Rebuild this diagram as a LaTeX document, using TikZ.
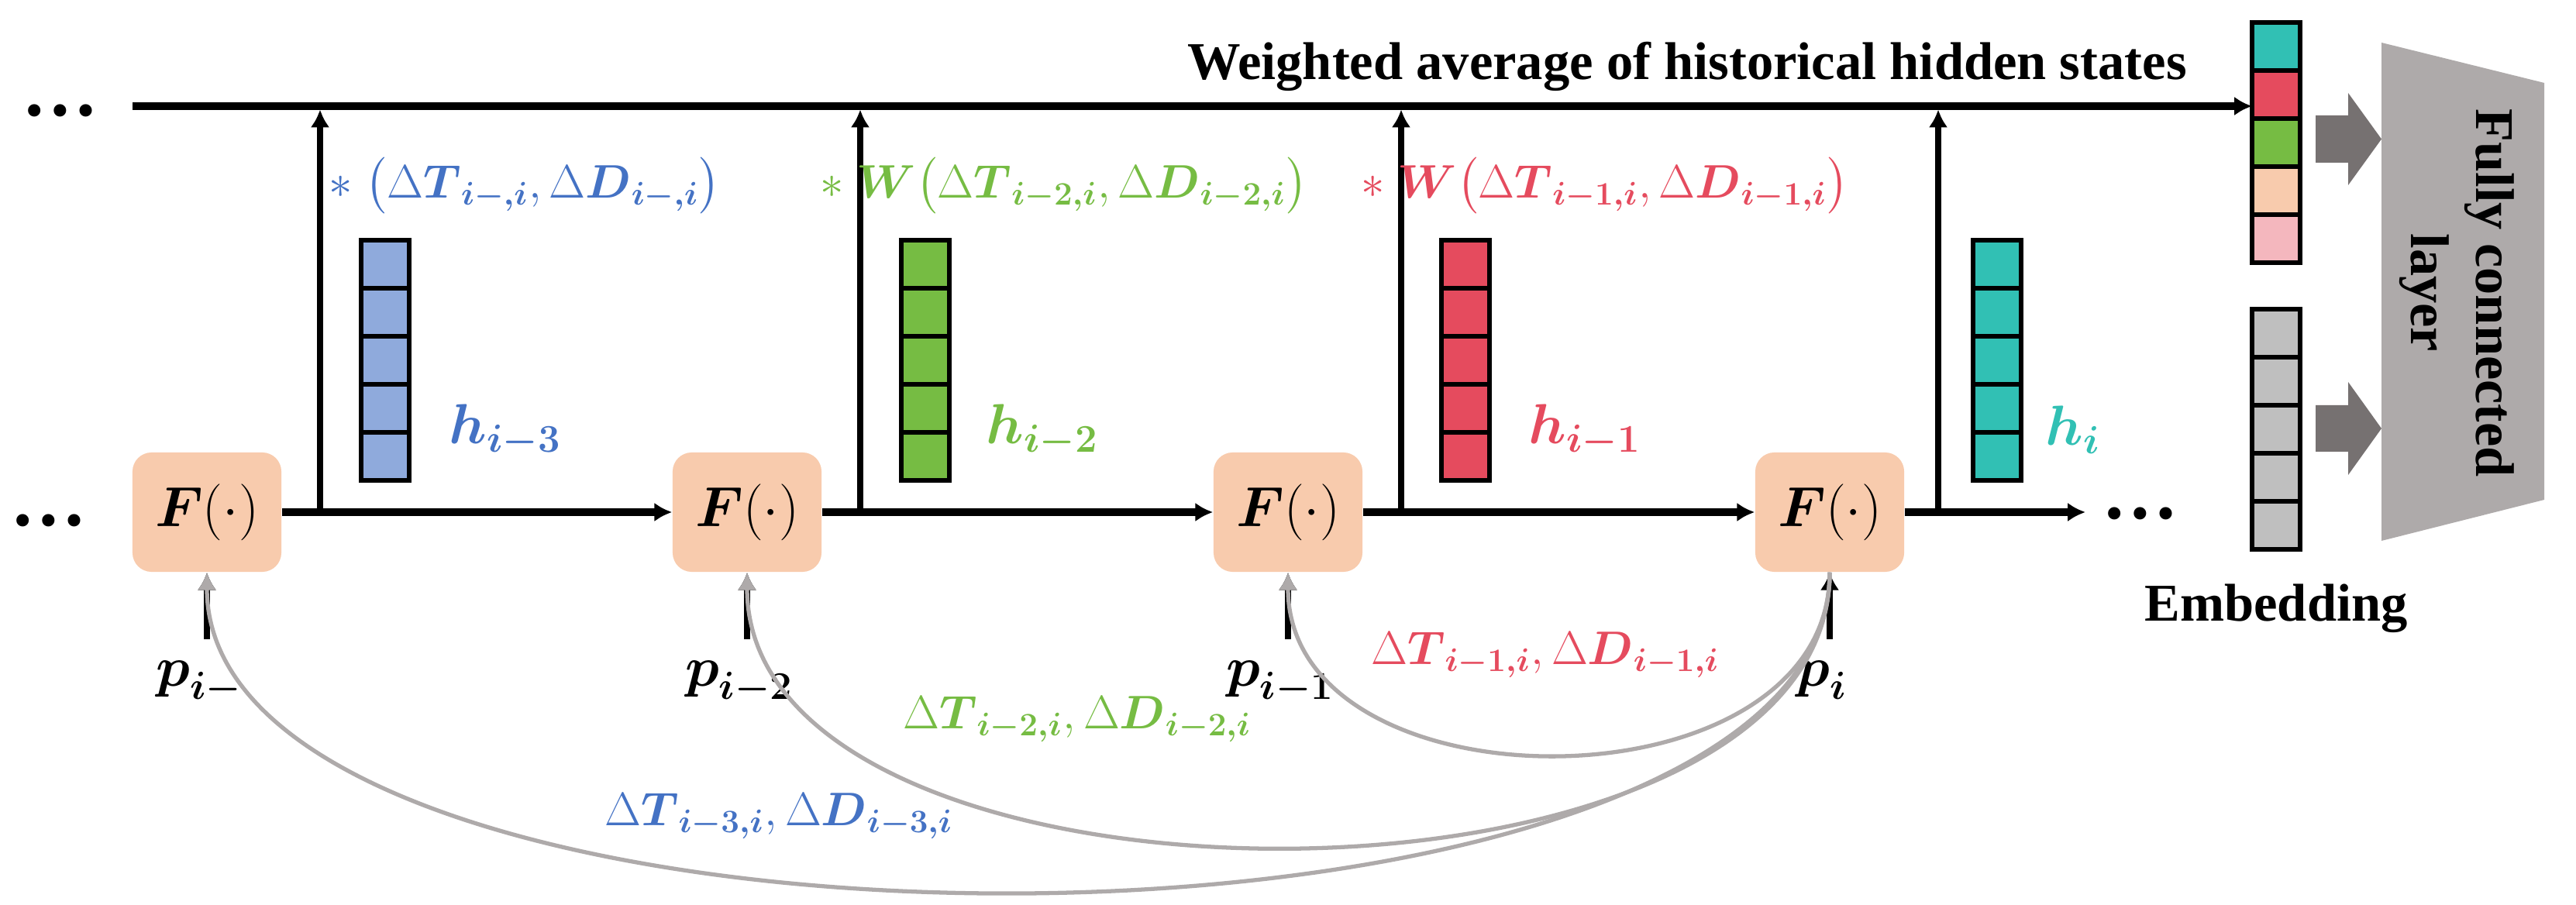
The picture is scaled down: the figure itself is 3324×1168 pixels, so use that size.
\documentclass[tikz,border=0pt]{standalone}
\usepackage{amsmath}
\usepackage{fontspec}
\setmainfont{Liberation Serif}
\usetikzlibrary{arrows.meta}
\definecolor{peach}{HTML}{F8CBAD}
\definecolor{bfill}{HTML}{8FAADC}
\definecolor{btext}{HTML}{4472C4}
\definecolor{gfill}{HTML}{76BC43}
\definecolor{rfill}{HTML}{E54B5E}
\definecolor{tfill}{HTML}{31C0B4}
\definecolor{pinkc}{HTML}{F4B7BE}
\definecolor{cellgray}{HTML}{BFBFBF}
\definecolor{fcgray}{HTML}{AEAAAA}
\definecolor{arrgray}{HTML}{767171}
\newcommand{\bsy}[1]{\boldsymbol{#1}}
\newcommand{\dtd}[1]{\Delta\boldsymbol{T}_{\boldsymbol{#1}},\Delta\boldsymbol{D}_{\boldsymbol{#1}}}
\newcommand{\vstack}[8]{%
  \node[cell, fill=#4] (#1-1) at (#2,#3) {};
  \node[cell, fill=#5] (#1-2) at (#2,#3+62) {};
  \node[cell, fill=#6] (#1-3) at (#2,#3+124) {};
  \node[cell, fill=#7] (#1-4) at (#2,#3+186) {};
  \node[cell, fill=#8] (#1-5) at (#2,#3+248) {};}
\begin{document}
\begin{tikzpicture}[x=0.01cm,y=-0.01cm,
  blk/.style={line width=2.7pt},
  vln/.style={line width=2.3pt},
  arr/.style={-{Latex[length=6.5pt,width=7pt]}},
  gcur/.style={line width=1.5pt, draw=fcgray, -{Latex[length=6.5pt,width=7pt,fill=fcgray]}},
  fbox/.style={fill=peach, rounded corners=7pt, minimum width=1.92cm, minimum height=1.54cm, inner sep=0pt, font=\fontsize{20}{24}\selectfont},
  cell/.style={draw, line width=1.7pt, minimum width=0.62cm, minimum height=0.62cm, inner sep=0pt, outer sep=0pt},
  tlab/.style={inner sep=0pt, font=\fontsize{18}{22}\selectfont},
  blab/.style={inner sep=0pt, font=\fontsize{17}{21}\selectfont},
  hlab/.style={inner sep=0pt, font=\fontsize{19.5}{23}\selectfont},
  ttext/.style={inner sep=0pt, font=\fontsize{19.5}{24}\selectfont\bfseries},
  dots/.style={inner sep=0pt, anchor=base, font=\fontsize{28}{30}\selectfont\bfseries}
]
\useasboundingbox (0,0) rectangle (3324,1168);

% F boxes
\node[fbox] (f1) at (267,661) {$\bsy{F}(\cdot)$};
\node[fbox] (f2) at (964,661) {$\bsy{F}(\cdot)$};
\node[fbox] (f3) at (1662,661) {$\bsy{F}(\cdot)$};
\node[fbox] (f4) at (2361,661) {$\bsy{F}(\cdot)$};

% hidden-state vectors
\vstack{hb}{497}{341}{bfill}{bfill}{bfill}{bfill}{bfill}
\vstack{hg}{1194}{341}{gfill}{gfill}{gfill}{gfill}{gfill}
\vstack{hr}{1891}{341}{rfill}{rfill}{rfill}{rfill}{rfill}
\vstack{ht}{2577}{341}{tfill}{tfill}{tfill}{tfill}{tfill}
% output vector and embedding
\vstack{o}{2937}{60}{tfill}{rfill}{gfill}{peach}{pinkc}
\vstack{e}{2937}{430}{cellgray}{cellgray}{cellgray}{cellgray}{cellgray}

% dots
\node[dots] (d1) at (78,150) {…};
\node[dots] (d2) at (63,679) {…};
\node[dots] (d3) at (2762,670) {…};

% bottom chain
\coordinate (rend) at (2691,661);
\draw[blk,arr] (f1.east) -- (f2.west);
\draw[blk,arr] (f2.east) -- (f3.west);
\draw[blk,arr] (f3.east) -- (f4.west);
\draw[blk,arr] (f4.east) -- (rend);

% top line
\coordinate (tl) at (171,137);
\draw[blk,arr] (tl) -- (tl -| o-2.west);

% vertical branches
\coordinate (b1) at (413,661);  \coordinate (t1) at (413,141.5);
\coordinate (b2) at (1110,661); \coordinate (t2) at (1110,141.5);
\coordinate (b3) at (1808,661); \coordinate (t3) at (1808,141.5);
\coordinate (b4) at (2501,661); \coordinate (t4) at (2501,141.5);
\draw[vln,arr] (b1) -- (t1);
\draw[vln,arr] (b2) -- (t2);
\draw[vln,arr] (b3) -- (t3);
\draw[vln,arr] (b4) -- (t4);

% weight labels
\node[tlab, text=btext, anchor=west] (w1) at (424,240) {$\ast\;\bigl(\dtd{i-,i}\bigr)$};
\node[tlab, text=gfill, anchor=west] (w2) at (1058,240) {$\ast\;\bsy{W}\bigl(\dtd{i-2,i}\bigr)$};
\node[tlab, text=rfill, anchor=west] (w3) at (1756,240) {$\ast\;\bsy{W}\bigl(\dtd{i-1,i}\bigr)$};

% h labels
\node[hlab, text=btext, anchor=base west] (h1) at (579,573) {$\bsy{h}_{\bsy{i-3}}$};
\node[hlab, text=gfill, anchor=base west] (h2) at (1272,573) {$\bsy{h}_{\bsy{i-2}}$};
\node[hlab, text=rfill, anchor=base west] (h3) at (1972,573) {$\bsy{h}_{\bsy{i-1}}$};
\node[hlab, text=tfill, anchor=base west] (h4) at (2639,575) {$\bsy{h}_{\bsy{i}}$};

% p labels and inputs
\node[hlab, anchor=base] (p1) at (257,886) {$\bsy{p}_{\bsy{i-}}$};
\node[hlab, anchor=base] (p2) at (954,886) {$\bsy{p}_{\bsy{i-2}}$};
\node[hlab, anchor=base] (p3) at (1652,886) {$\bsy{p}_{\bsy{i-1}}$};
\node[hlab, anchor=base] (p4) at (2351,886) {$\bsy{p}_{\bsy{i}}$};
\draw[vln,arr,shorten <=8pt] (p1.north -| f1.south) -- (f1.south);
\draw[vln,arr,shorten <=8pt] (p2.north -| f2.south) -- (f2.south);
\draw[vln,arr,shorten <=8pt] (p3.north -| f3.south) -- (f3.south);
\draw[vln,arr,shorten <=8pt] (p4.north -| f4.south) -- (f4.south);

% skip connections
\draw[gcur] (f4.south) .. controls +(0,313) and +(0,313) .. (f3.south);
\draw[gcur] (f4.south) .. controls +(0,472) and +(0,472) .. (f2.south);
\draw[gcur] (f4.south) .. controls +(0,549) and +(0,549) .. (f1.south);

% skip labels
\node[blab, text=rfill] (l1) at (1994,845) {$\dtd{i-1,i}$};
\node[blab, text=gfill] (l2) at (1390,928) {$\dtd{i-2,i}$};
\node[blab, text=btext] (l3) at (1005,1053) {$\dtd{i-3,i}$};

% texts
\node[ttext, anchor=base] (wt) at (2177,103) {Weighted average of historical hidden states};
\node[ttext, anchor=base] (emb) at (2937,802) {Embedding};

% fully connected layer
\fill[fcgray] (3073,55) -- (3283,107) -- (3283,645) -- (3073,698) -- cycle;
\node[ttext, rotate=-90, align=center, font=\fontsize{20}{24}\selectfont\bfseries] (fc) at (3170,378) {Fully connected\\layer};
\fill[arrgray] (2988,149) -- (3030,149) -- (3030,120) -- (3073,179.5) -- (3030,239) -- (3030,210) -- (2988,210) -- cycle;
\fill[arrgray] (2988,523) -- (3030,523) -- (3030,493) -- (3073,553) -- (3030,613) -- (3030,583) -- (2988,583) -- cycle;
\end{tikzpicture}
\end{document}
